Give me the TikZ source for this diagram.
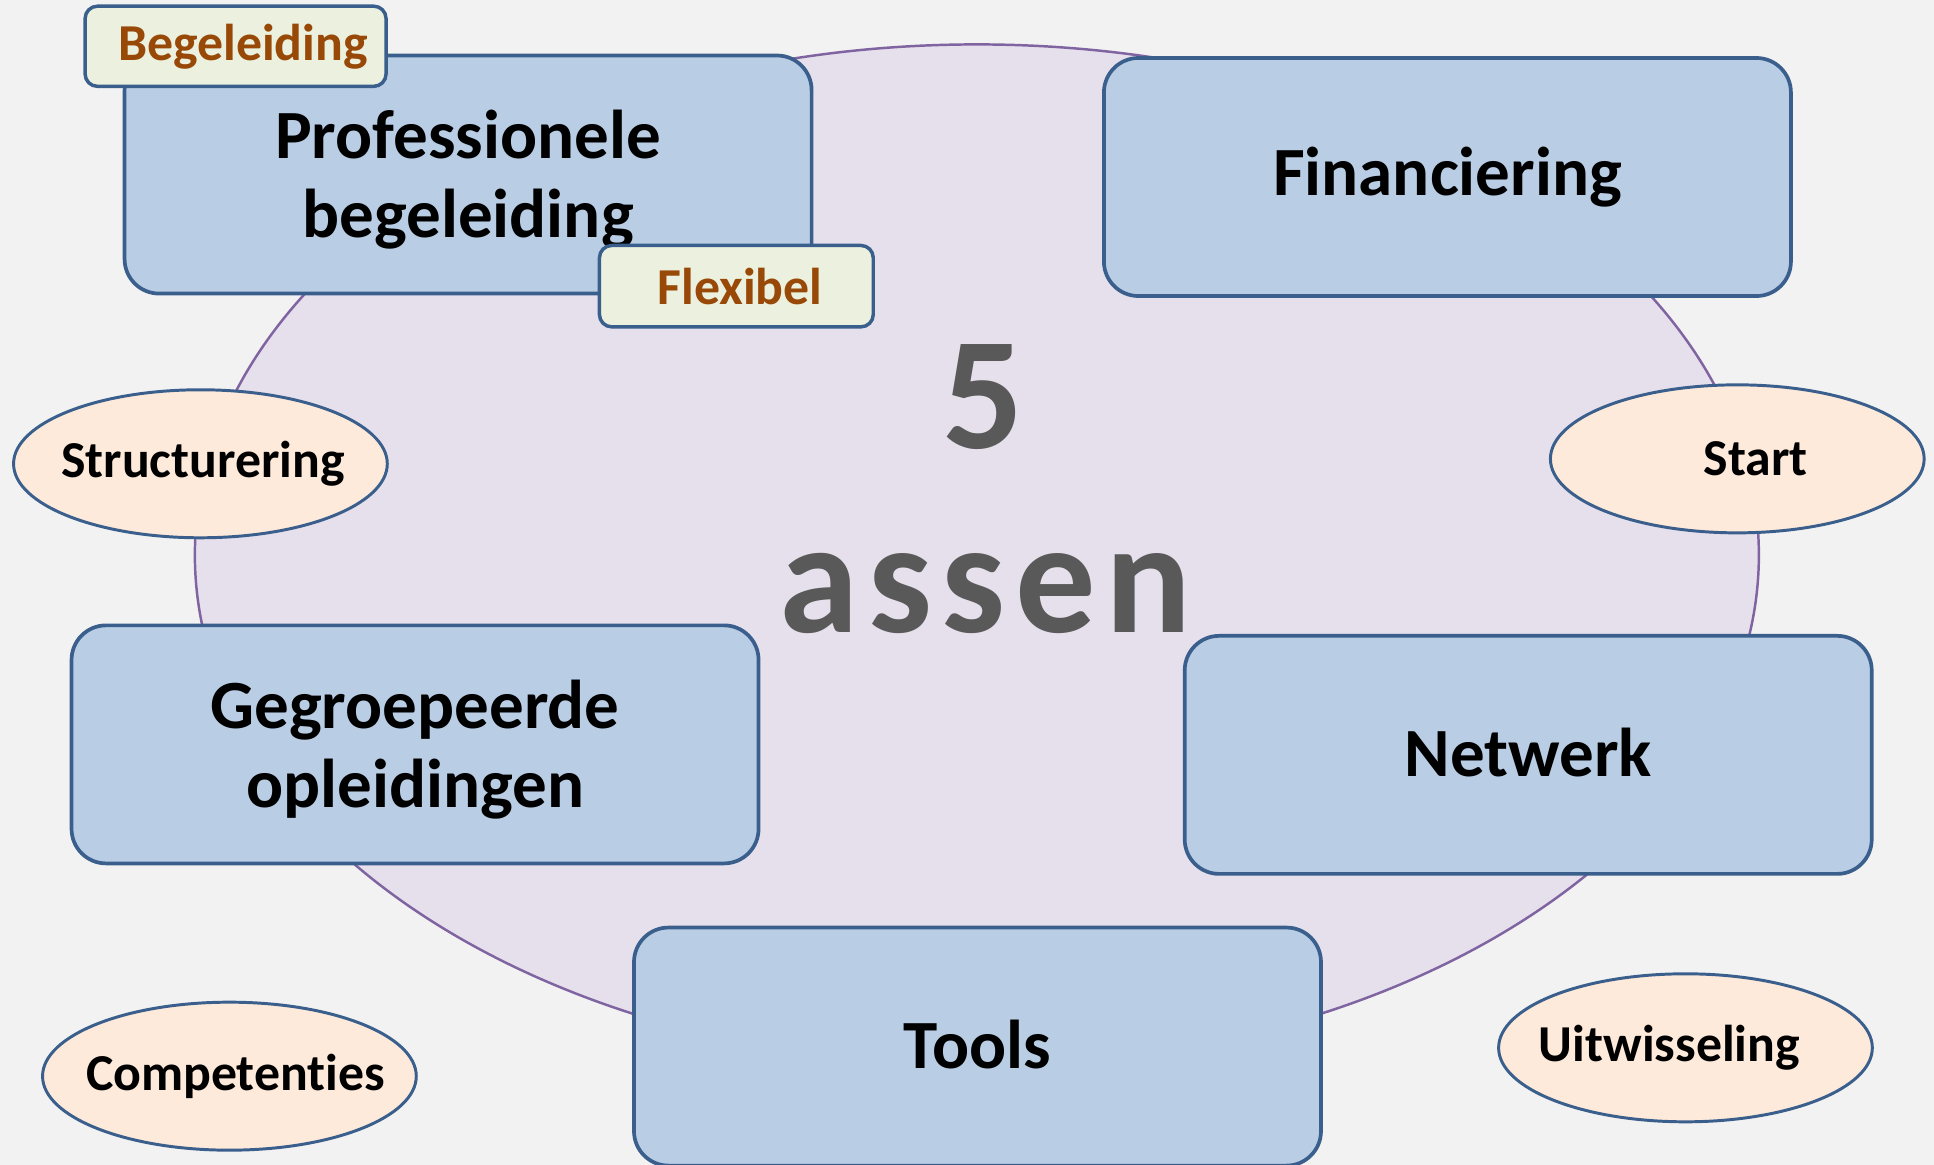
\documentclass[tikz,border=0pt]{standalone}
\usepackage{fontspec}
\setmainfont{Carlito}[Ligatures=NoCommon]
\usetikzlibrary{shapes.geometric}
\definecolor{bg}{HTML}{F2F2F2}
\definecolor{ringfill}{HTML}{E6E0EC}
\definecolor{ringline}{HTML}{8064A2}
\definecolor{boxfill}{HTML}{B9CDE5}
\definecolor{boxline}{HTML}{3A5F8C}
\definecolor{tagfill}{HTML}{EBF1DE}
\definecolor{tagtext}{HTML}{984807}
\definecolor{ovalfill}{HTML}{FDEADA}
\definecolor{bigtext}{HTML}{595959}
\begin{document}
\begin{tikzpicture}[x=0.5pt,y=-0.5pt,
  axisbox/.style={draw=boxline, fill=boxfill, line width=1.5pt, rounded corners=14pt,
    minimum width=278.5pt, minimum height=96.5pt, inner sep=0pt, align=center,
    font=\fontsize{28}{32}\selectfont\bfseries},
  tagbox/.style={draw=boxline, fill=tagfill, line width=1.4pt, rounded corners=5pt,
    inner sep=0pt, text=tagtext, font=\fontsize{21}{25}\selectfont\bfseries},
  oval/.style={ellipse, draw=boxline, fill=ovalfill, line width=1.2pt,
    minimum width=151.5pt, minimum height=60pt, inner sep=0pt,
    font=\fontsize{21}{25}\selectfont\bfseries},
  bigword/.style={inner sep=0pt, text=bigtext, font=\fontsize{65}{70}\selectfont\bfseries}
]
\fill[bg] (0,0) rectangle (1568,944.5);
\useasboundingbox (0,0) rectangle (1568,944.5);

% central ring
\node[ellipse, draw=ringline, fill=ringfill, line width=1pt, inner sep=0pt,
  minimum width=634pt, minimum height=414pt] (ring) at (792,450) {};

% centre text
\node[bigword] (five) at (797,322) {5};
\node[bigword] (assen) at (799,481) {\addfontfeature{LetterSpace=6}assen};

% five axes
\node[axisbox] (prof) at (379.5,141.5) {\rule{0pt}{24pt}Professionele\\begeleiding};
\node[axisbox] (fin) at (1173.5,143.5) {Financiering};
\node[axisbox] (grp) at (336.5,603.5) {\rule{0pt}{24pt}Gegroepeerde\\opleidingen};
\node[axisbox] (net) at (1239,612) {\raisebox{2pt}{Netwerk}};
\node[axisbox] (tools) at (792.5,848.5) {\raisebox{2pt}{Tools}};

% tags
\node[tagbox, minimum width=122pt, minimum height=32.5pt] (begtag) at (191,37.5) {\hspace*{6pt}Begeleiding};
\node[tagbox, minimum width=111pt, minimum height=33pt] (flextag) at (597,232) {\hspace*{3pt}Flexibel};

% ovals
\node[oval] (struct) at (162.5,376) {\makebox[0pt]{\hspace*{2pt}Structurering}};
\node[oval] (start) at (1408.5,372) {\makebox[0pt]{\hspace*{15pt}Start}};
\node[oval] (comp) at (186,872.5) {\makebox[0pt]{\hspace*{5pt}Competenties}};
\node[oval] (uitw) at (1366.5,849.5) {\makebox[0pt]{Uitwisseling\hspace*{13pt}}};
\end{tikzpicture}
\end{document}
